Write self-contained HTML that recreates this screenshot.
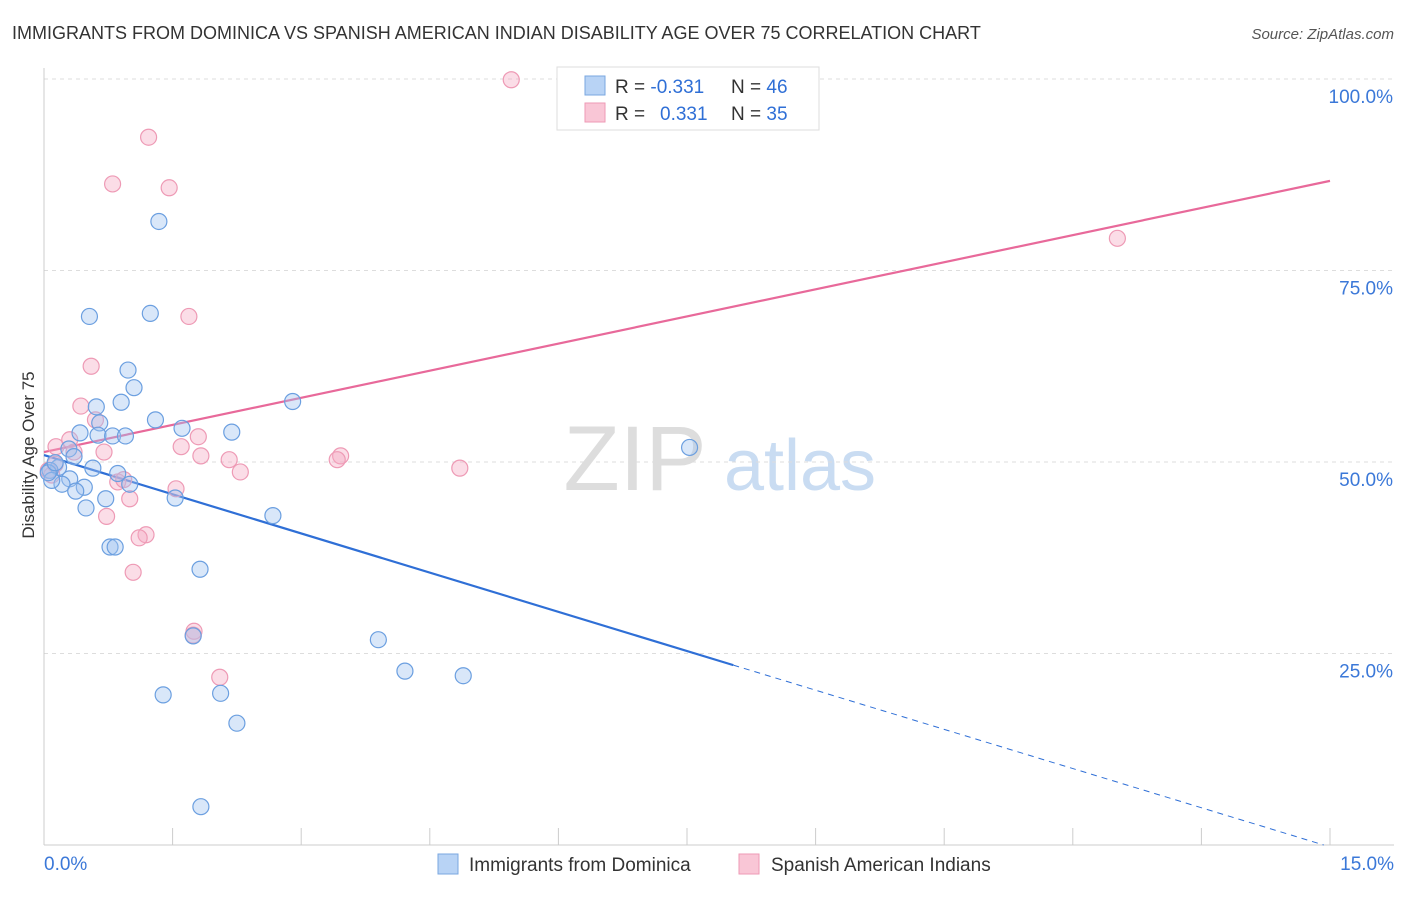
<!DOCTYPE html>
<html><head><meta charset="utf-8"><style>
body{margin:0;background:#fff;font-family:"Liberation Sans",sans-serif;}
svg text{font-family:"Liberation Sans",sans-serif;}
</style></head><body>
<svg id="chart" width="1406" height="892">
<text x="12" y="39" font-size="18" fill="#333">IMMIGRANTS FROM DOMINICA VS SPANISH AMERICAN INDIAN DISABILITY AGE OVER 75 CORRELATION CHART</text>
<text x="1394" y="39" font-size="15" fill="#555" font-style="italic" text-anchor="end">Source: ZipAtlas.com</text>
<text x="0" y="0" transform="translate(34,455) rotate(-90)" font-size="17" fill="#333" text-anchor="middle">Disability Age Over 75</text>
<g><text x="635" y="490" font-size="92" fill="#ddd" font-family="Liberation Serif" text-anchor="middle">ZIP</text><text x="800" y="490" font-size="72" fill="#c9dcf2" text-anchor="middle">atlas</text></g>
<g id="grid"></g><g id="axes"></g><g id="lines"></g><g id="pts"></g>
<g>
<rect x="557" y="67" width="262" height="63" fill="#fff" stroke="#ddd"/>
<rect x="585" y="76" width="20" height="19" fill="#b8d3f5" stroke="#7aa7e0"/>
<rect x="585" y="103" width="20" height="19" fill="#f9c6d6" stroke="#ee9ab5"/>
<text x="615" y="93" font-size="19" fill="#333">R = <tspan fill="#2f6fd6">-0.331</tspan><tspan x="731">N = </tspan><tspan fill="#2f6fd6">46</tspan></text>
<text x="615" y="120" font-size="19" fill="#333">R = <tspan x="660" fill="#2f6fd6">0.331</tspan><tspan x="731">N = </tspan><tspan fill="#2f6fd6">35</tspan></text>
</g>
<g>
<rect x="438" y="854" width="20" height="20" fill="#b8d3f5" stroke="#7aa7e0"/>
<text x="469" y="871" font-size="19" fill="#333">Immigrants from Dominica</text>
<rect x="739" y="854" width="20" height="20" fill="#f9c6d6" stroke="#ee9ab5"/>
<text x="771" y="871" font-size="19" fill="#333">Spanish American Indians</text>
</g>
</svg>
<script>
const blueX=[1.34,0.53,1.24,0.98,1.05,0.90,0.61,1.30,0.65,1.61,2.19,0.42,0.63,0.80,0.95,0.29,0.35,0.17,0.57,0.07,0.86,0.30,0.21,0.47,0.09,1.00,0.37,0.72,1.53,0.49,2.90,2.67,0.77,0.83,1.82,1.74,3.90,4.21,4.89,1.39,2.06,2.25,1.83,7.53,0.05,0.13];
const blueY=[81.4,69.0,69.4,62.0,59.7,57.8,57.2,55.5,55.1,54.4,53.9,53.8,53.5,53.4,53.4,51.7,50.7,49.3,49.2,48.9,48.5,47.8,47.1,46.7,47.6,47.1,46.2,45.2,45.3,44.0,57.9,43.0,38.9,38.9,36.0,27.3,26.8,22.7,22.1,19.6,19.8,15.9,5.0,51.9,48.6,49.9];
const pinkX=[5.45,1.22,0.80,1.46,12.52,1.69,0.55,0.43,0.60,1.80,1.60,0.14,0.30,0.35,0.70,1.83,2.16,3.46,3.42,4.85,2.29,0.05,0.13,0.86,1.54,0.93,1.00,0.73,1.19,1.11,1.04,1.75,1.74,2.05,0.09];
const pinkY=[99.9,92.4,86.3,85.8,79.2,69.0,62.5,57.3,55.5,53.3,52.0,52.0,52.9,51.3,51.3,50.8,50.3,50.8,50.3,49.2,48.7,48.9,49.7,47.4,46.5,47.7,45.2,42.9,40.5,40.1,35.6,27.9,27.4,21.9,48.3];
const X0=44,X1=1330,Y0=845,Y1=79;
const sx=v=>X0+v/15*(X1-X0), sy=v=>Y0-v/100*(Y0-Y1);
const NS="http://www.w3.org/2000/svg";
function mk(tag,attrs,parent){const e=document.createElementNS(NS,tag);for(const k in attrs)e.setAttribute(k,attrs[k]);document.getElementById(parent).appendChild(e);return e;}
const yTicks=[25,50,75,100];
yTicks.forEach(t=>{
 const l=mk('line',{x1:44,x2:1394,y1:sy(t),y2:sy(t),stroke:'#ddd','stroke-dasharray':'4,4'},'grid');
 
 
 const tx=mk('text',{x:1393,y:sy(t)+24,'font-size':19,fill:'#3b78d8','text-anchor':'end'},'axes');
 tx.textContent=t.toFixed(1)+'%';
 
 
});
mk('line',{x1:44,x2:44,y1:68,y2:845,stroke:'#ccc'},'axes');
mk('line',{x1:44,x2:1394,y1:845,y2:845,stroke:'#ccc'},'axes');
for(let i=0;i<=10;i++){mk('line',{x1:sx(i*1.5),x2:sx(i*1.5),y1:828,y2:845,stroke:'#ccc'},'axes');}
const xl=mk('text',{x:44,y:870,'font-size':19,fill:'#3b78d8'},'axes');xl.textContent='0.0%';


const xr=mk('text',{x:1394,y:870,'font-size':19,fill:'#3b78d8','text-anchor':'end'},'axes');xr.textContent='15.0%';


const pinkTrend=[51.3,86.7];
const blueTrend=[50.9,-3.41],blueSolidEnd=8.04;
let e=mk('line',{x1:sx(0),y1:sy(pinkTrend[0]),x2:sx(15),y2:sy(pinkTrend[1]),stroke:'#e8699a','stroke-width':2.2},'lines');


e=mk('line',{x1:sx(0),y1:sy(blueTrend[0]),x2:sx(blueSolidEnd),y2:sy(blueTrend[0]+blueTrend[1]*blueSolidEnd),stroke:'#2f6fd6','stroke-width':2.2},'lines');


const xe=-blueTrend[0]/blueTrend[1];
e=mk('line',{x1:sx(blueSolidEnd),y1:sy(blueTrend[0]+blueTrend[1]*blueSolidEnd),x2:sx(xe),y2:sy(0),stroke:'#2f6fd6','stroke-width':1,'stroke-dasharray':'6,5'},'lines');


pinkX.forEach((x,i)=>{const c=mk('circle',{cx:sx(x),cy:sy(pinkY[i]),r:8,fill:'rgba(246,170,196,0.4)',stroke:'#ee9ab5','stroke-width':1.2},'pts');
 
 });
blueX.forEach((x,i)=>{const c=mk('circle',{cx:sx(x),cy:sy(blueY[i]),r:8,fill:'rgba(160,196,240,0.4)',stroke:'#6b9fe0','stroke-width':1.2},'pts');
 
 });
</script>
</body></html>
